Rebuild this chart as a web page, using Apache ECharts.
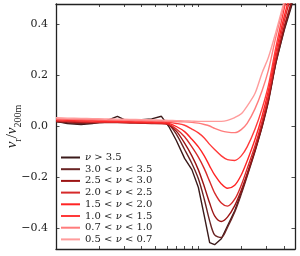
<!DOCTYPE html>
<html><head><meta charset="utf-8">
<script src="https://cdn.jsdelivr.net/npm/echarts@6/dist/echarts.min.js"></script>
<style>html,body{margin:0;padding:0;background:#fff}#c{width:300px;height:256px}</style>
</head><body><div id="c"></div>
<script>
// radius (log axis, unlabeled)
const radius = [0.1,0.12,0.15,0.18,0.22,0.27,0.33,0.4,0.47,0.55,0.62,0.7,0.8,0.9,1.0,1.1,1.2,1.3,1.45,1.6,1.8,2.0,2.2,2.5,2.8,3.1,3.5,4.0,4.5,5.0];

const nuGt35   = [0.02,0.012,0.008,0.012,0.02,0.04,0.016,0.027,0.03,0.04,0.0,-0.055,-0.125,-0.169,-0.239,-0.35,-0.455,-0.463,-0.44,-0.39,-0.33,-0.26,-0.19,-0.094,0.0,0.10,0.25,0.376,0.47,0.58];
const nu30to35 = [0.018,0.015,0.012,0.014,0.016,0.02,0.018,0.02,0.02,0.022,0.008,-0.03,-0.09,-0.145,-0.205,-0.285,-0.37,-0.425,-0.435,-0.395,-0.335,-0.265,-0.195,-0.097,-0.002,0.097,0.247,0.38,0.48,0.6];
const nu25to30 = [0.02,0.018,0.016,0.015,0.015,0.015,0.014,0.013,0.012,0.012,0.006,-0.018,-0.065,-0.115,-0.17,-0.235,-0.30,-0.35,-0.372,-0.355,-0.31,-0.25,-0.185,-0.09,0.005,0.105,0.255,0.39,0.49,0.61];
const nu20to25 = [0.022,0.02,0.018,0.017,0.016,0.016,0.015,0.014,0.013,0.012,0.008,-0.01,-0.04,-0.08,-0.12,-0.165,-0.215,-0.26,-0.3,-0.312,-0.285,-0.23,-0.165,-0.075,0.02,0.12,0.27,0.41,0.52,0.64];
const nu15to20 = [0.026,0.024,0.022,0.021,0.02,0.019,0.018,0.017,0.016,0.015,0.012,0.0,-0.02,-0.05,-0.08,-0.115,-0.155,-0.19,-0.225,-0.242,-0.23,-0.19,-0.135,-0.05,0.04,0.14,0.29,0.43,0.54,0.66];
const nu10to15 = [0.028,0.027,0.025,0.024,0.023,0.022,0.021,0.02,0.019,0.018,0.016,0.012,0.005,-0.01,-0.025,-0.045,-0.07,-0.09,-0.115,-0.13,-0.133,-0.115,-0.08,-0.01,0.07,0.16,0.31,0.46,0.58,0.7];
const nu07to10 = [0.03,0.029,0.028,0.027,0.026,0.025,0.024,0.023,0.022,0.021,0.02,0.019,0.018,0.016,0.013,0.008,0.002,-0.007,-0.017,-0.022,-0.024,-0.012,0.012,0.07,0.14,0.22,0.35,0.48,0.6,0.72];
const nu05to07 = [0.034,0.033,0.032,0.031,0.03,0.029,0.028,0.027,0.026,0.025,0.024,0.023,0.022,0.021,0.02,0.02,0.02,0.02,0.02,0.024,0.035,0.05,0.08,0.13,0.21,0.27,0.37,0.49,0.6,0.72];

const seriesNames = ['ν > 3.5','3.0 < ν < 3.5','2.5 < ν < 3.0','2.0 < ν < 2.5','1.5 < ν < 2.0','1.0 < ν < 1.5','0.7 < ν < 1.0','0.5 < ν < 0.7'];
const seriesValues = [nuGt35,nu30to35,nu25to30,nu20to25,nu15to20,nu10to15,nu07to10,nu05to07];
const seriesColors = ['#3a1a1a','#6a2424','#9c1414','#d62a2a','#ff2424','#ff3a3a','#ff7c7c','#ff9c9c'];

const yTicks = [-0.4,-0.2,0.0,0.2,0.4];
const xTicks = [0.2,0.3,0.4,0.5,0.6,0.7,0.8,0.9,1,2,3,4];

const serif = 'DejaVu Serif';
const times = 'Liberation Serif';
const chart = echarts.init(document.getElementById('c'), null, {renderer:'canvas'});
const fmtY = v => (Math.abs(v) < 1e-9 ? '0.0' : (v < 0 ? '\u2212' + Math.abs(v).toFixed(1) : v.toFixed(1)));

const xAxisBase = {
  type: 'log', logBase: 10, min: 0.1, max: 4.77,
  axisLine: {show: true, onZero: false, lineStyle: {color: '#222', width: 1.3}},
  axisTick: {show: true, inside: true, length: 3, customValues: xTicks, lineStyle: {color: '#222', width: 0.8}},
  axisLabel: {show: false},
  splitLine: {show: false}, minorTick: {show: false}
};
const yAxisBase = {
  type: 'value', min: -0.48, max: 0.48,
  axisLine: {show: true, onZero: false, lineStyle: {color: '#222', width: 1.3}},
  axisTick: {show: true, inside: true, length: 3.5, customValues: yTicks, lineStyle: {color: '#222', width: 0.8}},
  splitLine: {show: false}
};

chart.setOption({
  animation: false,
  backgroundColor: '#fff',
  grid: {left: 56, top: 4, right: 5, bottom: 7, containLabel: false, outerBoundsMode: 'none'},
  legend: {
    orient: 'vertical', left: 56, top: 152, padding: [0,0,0,5],
    itemWidth: 19, itemHeight: 2, itemGap: 0.7,
    icon: 'rect',
    data: seriesNames,
    formatter: n => n.replace('ν', '{i|ν}'),
    textStyle: {fontFamily: serif, fontSize: 10, color: '#222', lineHeight: 11,
      rich: {i: {fontFamily: serif, fontStyle: 'italic', fontSize: 10, color: '#222', lineHeight: 11}}}
  },
  xAxis: [
    Object.assign({}, xAxisBase, {position: 'bottom'}),
    Object.assign({}, xAxisBase, {position: 'top'})
  ],
  yAxis: [
    Object.assign({}, yAxisBase, {
      position: 'left',
      axisLabel: {show: true, customValues: yTicks, formatter: fmtY, fontFamily: serif, fontSize: 11, color: '#222', margin: 8},
      name: '{v|v}{s|r}{n|/}{v|v}{s|200m}',
      nameLocation: 'middle', nameGap: 36, nameRotate: 90, nameMoveOverlap: false,
      nameTextStyle: {rich: {
        v: {fontFamily: times, fontStyle: 'italic', fontSize: 15, color: '#222', lineHeight: 16, verticalAlign: 'bottom'},
        n: {fontFamily: times, fontSize: 15, color: '#222', lineHeight: 16, verticalAlign: 'bottom'},
        s: {fontFamily: times, fontSize: 10, color: '#222', lineHeight: 10, verticalAlign: 'bottom', padding: [0,0,-3,0]}
      }}
    }),
    Object.assign({}, yAxisBase, {position: 'right', axisLabel: {show: false}})
  ],
  series: seriesNames.map((name, i) => ({
    name: name, type: 'line', xAxisIndex: 0, yAxisIndex: 0,
    data: radius.map((r, k) => [r, seriesValues[i][k]]),
    showSymbol: false, symbol: 'none',
    smooth: i === 0 ? false : 0.3,
    clip: true,
    lineStyle: {color: seriesColors[i], width: 1.4},
    itemStyle: {color: seriesColors[i]}
  }))
});
</script></body></html>
